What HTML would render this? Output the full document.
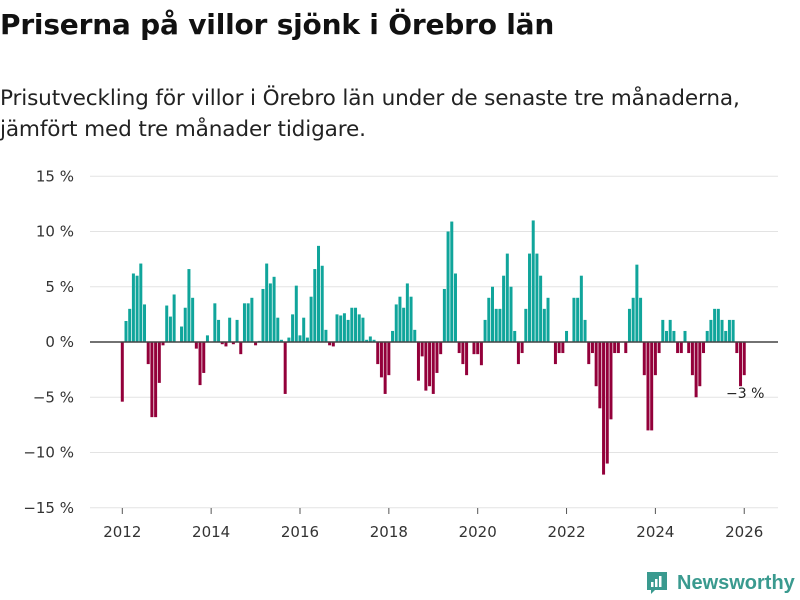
<!DOCTYPE html>
<html><head><meta charset="utf-8"><style>
body{margin:0;background:#fff;font-family:"Liberation Sans","DejaVu Sans",sans-serif;}
#wrap{position:relative;width:800px;height:600px;overflow:hidden;}
h1{position:absolute;left:0;top:8px;margin:0;font-size:28px;font-weight:bold;color:#111;font-family:"DejaVu Sans","Liberation Sans",sans-serif;letter-spacing:-0.2px;white-space:nowrap;}
.sub{position:absolute;left:0;top:83px;margin:0;font-size:21.6px;line-height:31px;color:#222;font-family:"DejaVu Sans","Liberation Sans",sans-serif;white-space:nowrap;letter-spacing:-0.15px;}
svg text{font-family:"DejaVu Sans","Liberation Sans",sans-serif;}
</style></head><body>
<div id="wrap">
<h1>Priserna på villor sjönk i Örebro län</h1>
<p class="sub">Prisutveckling för villor i Örebro län under de senaste tre månaderna,<br>jämfört med tre månader tidigare.</p>
<svg id="chart" width="800" height="600" style="position:absolute;left:0;top:0"></svg>
<div style="position:absolute;left:645px;top:569px;height:28px;display:flex;align-items:center;">
<svg width="24" height="26"><path d="M2 2h20v18h-12l-4 4v-4h-4z" fill="#3a9a8f"/><rect x="6" y="12" width="2.5" height="5" fill="#fff"/><rect x="10" y="9" width="2.5" height="8" fill="#fff"/><rect x="14" y="6" width="2.5" height="11" fill="#fff"/></svg>
<span style="margin-left:8px;font-size:20px;font-weight:bold;color:#3a9a8f;font-family:'Liberation Sans',sans-serif;">Newsworthy</span>
</div>
</div>
<script>
const values = [-5.4,1.9,3.0,6.2,6.0,7.1,3.4,-2.0,-6.8,-6.8,-3.7,-0.3,
3.3,2.3,4.3,0,1.4,3.1,6.6,4.0,-0.6,-3.9,-2.8,0.6,
0,3.5,2.0,-0.2,-0.4,2.2,-0.2,2.0,-1.1,3.5,3.5,4.0,
-0.3,0.1,4.8,7.1,5.3,5.9,2.2,0.2,-4.7,0.4,2.5,5.1,
0.6,2.2,0.4,4.1,6.6,8.7,6.9,1.1,-0.3,-0.4,2.5,2.4,
2.6,2.0,3.1,3.1,2.5,2.2,0.2,0.5,0.2,-2.0,-3.2,-4.7,
-3.0,1.0,3.4,4.1,3.1,5.3,4.1,1.1,-3.5,-1.3,-4.4,-4.0,
-4.7,-2.8,-1.1,4.8,10.0,10.9,6.2,-1.0,-2.0,-3.0,0,-1.1,
-1.1,-2.1,2.0,4.0,5.0,3.0,3.0,6.0,8.0,5.0,1.0,-2.0,
-1.0,3.0,8.0,11.0,8.0,6.0,3.0,4.0,0,-2.0,-1.0,-1.0,
1.0,0,4.0,4.0,6.0,2.0,-2.0,-1.0,-4.0,-6.0,-12.0,-11.0,
-7.0,-1.0,-1.0,0,-1.0,3.0,4.0,7.0,4.0,-3.0,-8.0,-8.0,
-3.0,-1.0,2.0,1.0,2.0,1.0,-1.0,-1.0,1.0,-1.0,-3.0,-5.0,
-4.0,-1.0,1.0,2.0,3.0,3.0,2.0,1.0,2.0,2.0,-1.0,-4.0,-3.0];
const startYear = 2012;
const yTicks = [15,10,5,0,-5,-10,-15];
const yTickLabels = ["15 %","10 %","5 %","0 %","−5 %","−10 %","−15 %"];
const xTickYears = [2012,2014,2016,2018,2020,2022,2024,2026];
const lastLabel = "−3 %";

const NS="http://www.w3.org/2000/svg";
const svg=document.getElementById('chart');
function y(v){return 342 - v*11.05;}
function x(i){return 122.3 + i*3.702;}
function mk(tag,attrs){const e=document.createElementNS(NS,tag);for(const k in attrs)e.setAttribute(k,attrs[k]);svg.appendChild(e);return e;}
yTicks.forEach((t,k)=>{
  if(t!==0){const g=mk('line',{x1:90,x2:778,y1:y(t),y2:y(t),stroke:'#e3e3e3','stroke-width':1});
  
  }
  const tx=mk('text',{x:74,y:y(t)+5,'text-anchor':'end','font-size':15,fill:'#333'});
  tx.textContent=yTickLabels[k];
  
  
});
values.forEach((v,i)=>{
  const top=Math.min(y(v),y(0)),h=Math.abs(y(v)-y(0));
  const r=mk('rect',{x:x(i)-1.5,y:top,width:3,height:h,fill:v>=0?'#10a59b':'#93003a'});
  
  
});
const zl=mk('line',{x1:90,x2:778,y1:y(0),y2:y(0),stroke:'#444','stroke-width':1.5});


xTickYears.forEach(yr=>{
  const xi=x((yr-startYear)*12);
  const tk=mk('line',{x1:xi,x2:xi,y1:508,y2:514,stroke:'#555','stroke-width':1});
  
  
  const t=mk('text',{x:xi,y:537,'text-anchor':'middle','font-size':15,fill:'#333'});
  t.textContent=yr;
  
  
});
const li=values.length-1;
const ll=mk('text',{x:x(li)+1,y:y(values[li])+23,'text-anchor':'middle','font-size':14,fill:'#222'});
ll.textContent=lastLabel;


</script>
</body></html>
